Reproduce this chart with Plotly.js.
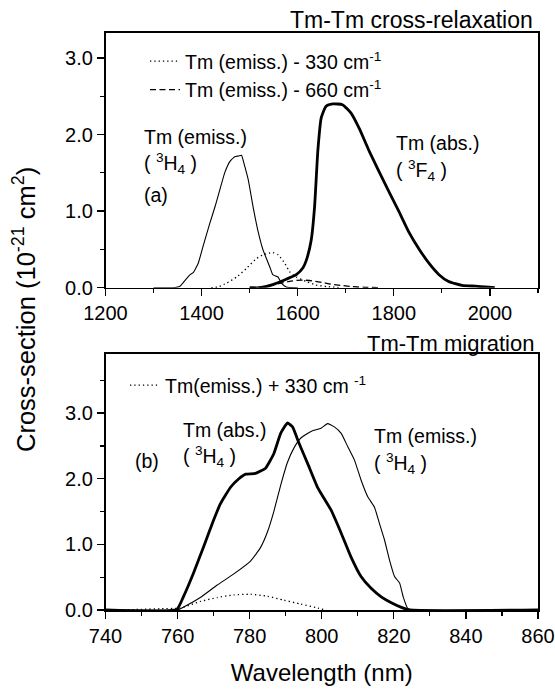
<!DOCTYPE html>
<html>
<head>
<meta charset="utf-8">
<script src="https://cdn.plot.ly/plotly-3.0.1.min.js"></script>
<style>html,body{margin:0;padding:0;background:#fff;}#plot{width:555px;height:691px;}</style>
</head>
<body>
<div id="plot"></div>
<script>
// ---- Panel (a): Tm-Tm cross-relaxation ----
const emA_x = [1300, 1340, 1355, 1366, 1376, 1383, 1393, 1403, 1417, 1428, 1438, 1448, 1459, 1469, 1477, 1483, 1490, 1497, 1507, 1517, 1528, 1542, 1548, 1555, 1559, 1566, 1576, 1600];
const emA_y = [0, 0, 0.02, 0.10, 0.17, 0.20, 0.32, 0.54, 0.84, 1.06, 1.28, 1.50, 1.65, 1.71, 1.72, 1.73, 1.58, 1.41, 1.06, 0.75, 0.49, 0.27, 0.17, 0.15, 0.14, 0.06, 0.01, 0];

const dot330_x = [1420, 1434, 1452, 1473, 1493, 1514, 1528, 1540, 1548, 1559, 1573, 1583, 1590, 1597, 1618, 1638, 1660, 1690];
const dot330_y = [0, 0.01, 0.06, 0.14, 0.25, 0.38, 0.43, 0.45, 0.46, 0.43, 0.32, 0.21, 0.17, 0.14, 0.08, 0.035, 0.015, 0];

const dash660_x = [1500, 1525, 1545, 1565, 1590, 1610, 1630, 1650, 1670, 1690, 1710, 1740, 1770];
const dash660_y = [0, 0.01, 0.03, 0.06, 0.09, 0.10, 0.09, 0.07, 0.045, 0.03, 0.015, 0.005, 0];

const absA_x = [1500, 1521, 1548, 1576, 1597, 1611, 1618, 1628, 1635, 1642, 1649, 1659, 1673, 1693, 1711, 1728, 1749, 1769, 1790, 1811, 1831, 1852, 1873, 1894, 1914, 1942, 1970, 1990, 2010];
const absA_y = [0, 0, 0.04, 0.11, 0.17, 0.26, 0.36, 0.62, 1.05, 1.80, 2.22, 2.37, 2.40, 2.39, 2.28, 2.08, 1.78, 1.52, 1.25, 0.99, 0.73, 0.51, 0.32, 0.17, 0.08, 0.03, 0.02, 0.01, 0];

// ---- Panel (b): Tm-Tm migration ----
const absB_x = [740, 759.8, 761.6, 764.4, 767.2, 770, 771.9, 774.7, 777, 778.9, 781.6, 784.4, 786.7, 788.6, 790.5, 791.9, 793.7, 796.1, 798.9, 802.6, 805.4, 808.1, 810.9, 813.7, 816.5, 819.3, 822.1, 824.4, 860];
const absB_y = [0, 0.01, 0.20, 0.56, 0.96, 1.37, 1.62, 1.87, 2.00, 2.07, 2.08, 2.16, 2.38, 2.69, 2.85, 2.79, 2.54, 2.23, 1.86, 1.52, 1.17, 0.81, 0.51, 0.33, 0.20, 0.11, 0.04, 0, 0];

const emB_x = [740, 760, 760.8, 766.3, 771, 775.6, 780.3, 783, 785, 786.7, 788.6, 790.5, 792.3, 794.2, 797, 799.8, 801.6, 803.5, 805.4, 807.2, 809.1, 810.9, 812.8, 814.6, 816, 817.4, 818.8, 820.2, 821.6, 822.6, 823.8, 825, 860];
const emB_y = [0, 0, 0.02, 0.19, 0.38, 0.55, 0.75, 0.95, 1.20, 1.50, 1.90, 2.25, 2.47, 2.62, 2.72, 2.77, 2.84, 2.79, 2.69, 2.49, 2.28, 1.98, 1.72, 1.57, 1.32, 1.07, 0.76, 0.51, 0.41, 0.20, 0.03, 0, 0];

const dotB_x = [745, 750, 755, 760.8, 766.3, 771, 775.6, 780.3, 784.9, 789.5, 794.2, 798.9, 801];
const dotB_y = [0.0, 0.01, 0.02, 0.03, 0.13, 0.19, 0.23, 0.24, 0.21, 0.15, 0.09, 0.03, 0];

// tick labels
const xTicksA = [1200, 1400, 1600, 1800, 2000];
const xTicksB = [740, 760, 780, 800, 820, 840, 860];
const yTicksA = [0, 1, 2, 3];
const yTicksB = [0, 1, 2, 3];

const W = 555, H = 691;
const FONT = 'Liberation Sans, Arial, Helvetica, sans-serif';
const px = v => v / W;
const py = v => 1 - v / H;

const thin = {color: '#000', width: 1.1};
const thick = {color: '#000', width: 2.8};
const dotted = {color: '#000', width: 1.3, dash: '1.3px,3px'};
const dashed = {color: '#000', width: 1.3, dash: '6px,3.5px'};

const data = [
  {x: emA_x, y: emA_y, xaxis: 'x', yaxis: 'y', mode: 'lines', line: Object.assign({shape: 'spline', smoothing: 0.4}, thin), showlegend: false, name: 'Tm (emiss.) 3H4'},
  {x: absA_x, y: absA_y, xaxis: 'x', yaxis: 'y', mode: 'lines', line: Object.assign({shape: 'spline', smoothing: 0.5}, thick), showlegend: false, name: 'Tm (abs.) 3F4'},
  {x: dot330_x, y: dot330_y, xaxis: 'x', yaxis: 'y', mode: 'lines', line: Object.assign({shape: 'spline', smoothing: 0.5}, dotted), name: 'Tm (emiss.) - 330 cm<sup>-1</sup>', legend: 'legend'},
  {x: dash660_x, y: dash660_y, xaxis: 'x', yaxis: 'y', mode: 'lines', line: Object.assign({shape: 'spline', smoothing: 0.5}, dashed), name: 'Tm (emiss.) - 660 cm<sup>-1</sup>', legend: 'legend'},
  {x: absB_x, y: absB_y, xaxis: 'x2', yaxis: 'y2', mode: 'lines', line: Object.assign({shape: 'spline', smoothing: 0.4}, thick), showlegend: false, name: 'Tm (abs.) 3H4'},
  {x: emB_x, y: emB_y, xaxis: 'x2', yaxis: 'y2', mode: 'lines', line: Object.assign({shape: 'spline', smoothing: 0.4}, thin), showlegend: false, name: 'Tm (emiss.) 3H4'},
  {x: dotB_x, y: dotB_y, xaxis: 'x2', yaxis: 'y2', mode: 'lines', line: Object.assign({shape: 'spline', smoothing: 0.5}, dotted), name: 'Tm(emiss.) + 330 cm <sup>-1</sup>', legend: 'legend2'}
];

const axisCommon = {
  showline: true, linecolor: '#000', linewidth: 1.6, mirror: true,
  ticks: 'outside', ticklen: 7, tickwidth: 1.3, tickcolor: '#000',
  showgrid: false, zeroline: false, automargin: false, ticklabeloverflow: 'allow',
  tickfont: {family: FONT, size: 20, color: '#000'}, fixedrange: true
};
const xDomain = [px(105.5), px(538)];

const layout = {
  width: W, height: H,
  margin: {l: 0, r: 0, t: 0, b: 0},
  paper_bgcolor: '#fff', plot_bgcolor: '#fff',
  font: {family: FONT, color: '#000'},
  xaxis: Object.assign({}, axisCommon, {domain: xDomain, anchor: 'y', range: [1200, 2100], tickvals: xTicksA,
    minor: {dtick: 100, tick0: 1200, ticks: 'outside', ticklen: 4, tickwidth: 1.2, tickcolor: '#000'}}),
  yaxis: Object.assign({}, axisCommon, {domain: [py(287.7), py(32.7)], anchor: 'x', range: [0, 3.33], tickvals: yTicksA, tickformat: '.1f',
    minor: {dtick: 0.5, tick0: 0, ticks: 'outside', ticklen: 4, tickwidth: 1.2, tickcolor: '#000'}}),
  xaxis2: Object.assign({}, axisCommon, {domain: xDomain, anchor: 'y2', range: [740, 860], tickvals: xTicksB,
    minor: {dtick: 10, tick0: 740, ticks: 'outside', ticklen: 4, tickwidth: 1.2, tickcolor: '#000'},
    title: {text: 'Wavelength (nm)', font: {family: FONT, size: 24, color: '#000'}, standoff: 18}}),
  yaxis2: Object.assign({}, axisCommon, {domain: [py(610), py(354)], anchor: 'x2', range: [0, 3.9], tickvals: yTicksB, tickformat: '.1f',
    minor: {dtick: 0.5, tick0: 0, ticks: 'outside', ticklen: 4, tickwidth: 1.2, tickcolor: '#000'}}),
  legend: {x: px(145), y: py(42), xanchor: 'left', yanchor: 'top', bgcolor: 'rgba(0,0,0,0)', borderwidth: 0,
    font: {family: FONT, size: 19.5, color: '#000'}, tracegroupgap: 0},
  legend2: {x: px(125), y: py(366), xanchor: 'left', yanchor: 'top', bgcolor: 'rgba(0,0,0,0)', borderwidth: 0,
    font: {family: FONT, size: 19.5, color: '#000'}},
  annotations: [
    {text: 'Tm-Tm cross-relaxation', xref: 'paper', yref: 'paper', x: px(535), y: py(20), xanchor: 'right', yanchor: 'middle', showarrow: false, font: {size: 23}},
    {text: 'Tm-Tm migration', xref: 'paper', yref: 'paper', x: px(536), y: py(343), xanchor: 'right', yanchor: 'middle', showarrow: false, font: {size: 22}},
    {text: 'Cross-section (10<sup>-21</sup> cm<sup>2</sup>)', xref: 'paper', yref: 'paper', x: px(24), y: py(310), xanchor: 'center', yanchor: 'middle', textangle: -90, showarrow: false, font: {size: 25.5}},
    {text: 'Tm (emiss.)', xref: 'paper', yref: 'paper', x: px(142), y: py(137), xanchor: 'left', yanchor: 'middle', showarrow: false, font: {size: 19.5}},
    {text: '( <sup>3</sup>H<sub>4</sub> )', xref: 'paper', yref: 'paper', x: px(142), y: py(164), xanchor: 'left', yanchor: 'middle', showarrow: false, font: {size: 19.5}},
    {text: '(a)', xref: 'paper', yref: 'paper', x: px(142), y: py(195), xanchor: 'left', yanchor: 'middle', showarrow: false, font: {size: 19.5}},
    {text: 'Tm (abs.)', xref: 'paper', yref: 'paper', x: px(394), y: py(143), xanchor: 'left', yanchor: 'middle', showarrow: false, font: {size: 19.5}},
    {text: '( <sup>3</sup>F<sub>4</sub> )', xref: 'paper', yref: 'paper', x: px(394), y: py(170), xanchor: 'left', yanchor: 'middle', showarrow: false, font: {size: 19.5}},
    {text: 'Tm (abs.)', xref: 'paper', yref: 'paper', x: px(181), y: py(430), xanchor: 'left', yanchor: 'middle', showarrow: false, font: {size: 19.5}},
    {text: '( <sup>3</sup>H<sub>4</sub> )', xref: 'paper', yref: 'paper', x: px(181), y: py(457), xanchor: 'left', yanchor: 'middle', showarrow: false, font: {size: 19.5}},
    {text: '(b)', xref: 'paper', yref: 'paper', x: px(133), y: py(461), xanchor: 'left', yanchor: 'middle', showarrow: false, font: {size: 19.5}},
    {text: 'Tm (emiss.)', xref: 'paper', yref: 'paper', x: px(372), y: py(436), xanchor: 'left', yanchor: 'middle', showarrow: false, font: {size: 19.5}},
    {text: '( <sup>3</sup>H<sub>4</sub> )', xref: 'paper', yref: 'paper', x: px(372), y: py(463), xanchor: 'left', yanchor: 'middle', showarrow: false, font: {size: 19.5}}
  ]
};

Plotly.newPlot('plot', data, layout, {staticPlot: true, displayModeBar: false});
</script>
</body>
</html>
